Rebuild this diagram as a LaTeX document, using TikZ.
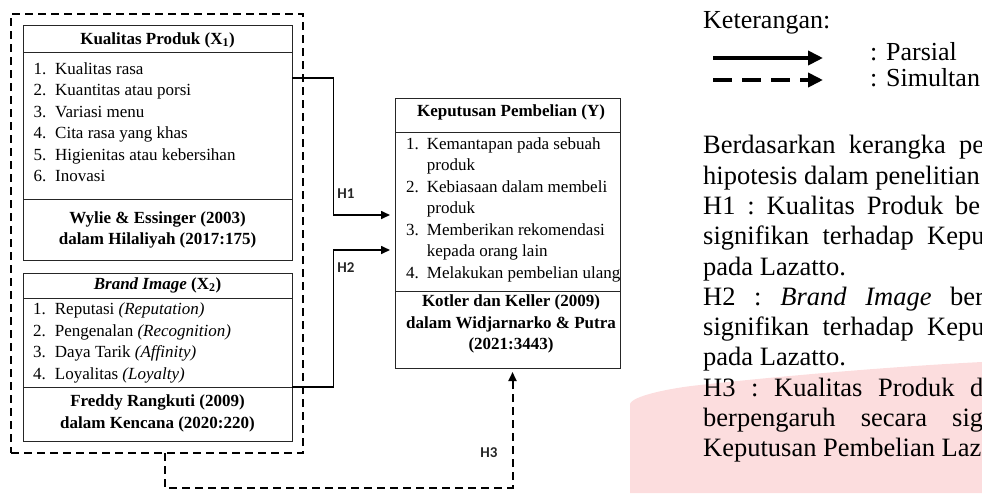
\documentclass[tikz,border=0pt]{standalone}
\usepackage{fontspec}
\setmainfont{Liberation Serif}
\newfontfamily\lblfont{Carlito}
\usetikzlibrary{arrows.meta}
\newcommand\itm[1]{\makebox[21.7pt][l]{#1}}
\newcommand\itmy[1]{\makebox[20.7pt][l]{#1}}
\definecolor{pinkbg}{RGB}{252,221,222}
\begin{document}
\begin{tikzpicture}[x=1pt,y=-1pt,line join=miter]
\tikzset{
 box/.style={draw=black!85, line width=1pt, minimum width=269pt, inner sep=0pt, outer sep=0pt},
 ybox/.style={box, minimum width=225pt},
 outerbox/.style={draw, line width=2pt, dash pattern=on 8pt off 5pt, inner sep=0pt, outer sep=0pt},
 txt/.style={inner sep=0pt, font=\fontsize{17}{21.5}\selectfont},
 para/.style={inner sep=0pt, anchor=mid west, font=\fontsize{26.5}{30}\selectfont},
 legtxt/.style={inner sep=0pt, anchor=mid west, font=\fontsize{26}{30}\selectfont},
 hlbl/.style={inner sep=0pt, font=\lblfont\bfseries\fontsize{15}{16}\selectfont, text=black!85},
 parrow/.style={line width=1.6pt, -{Triangle[length=9pt,width=8pt]}, shorten >=5pt},
 sarrow/.style={line width=2pt, dash pattern=on 8pt off 5pt, -{Triangle[length=9pt,width=8pt]}, shorten >=4pt},
 legsolid/.style={line width=4pt, -{Triangle[length=15pt,width=14pt]}},
 legdash/.style={line width=4pt, dash pattern=on 19pt off 10pt, -{Triangle[length=15pt,width=14pt]}},
}
\useasboundingbox (0,0) rectangle (982,493);
\clip (0,0) rectangle (982,493);
% pink background blob
\fill[pinkbg] (630,493) -- (630,404) .. controls (632,396) and (670,388) .. (700,385) .. controls (780,376) and (900,366) .. (982,362) -- (982,493) -- cycle;

% outer dashed box
\node[outerbox, minimum width=291.7pt, minimum height=439.3pt] (outer) at (156.85,233.65) {};

% X1 box
\node[box, minimum height=27pt] (x1t) at (157.5,38.5) {};
\node[box, minimum height=147pt] (x1i) at (157.5,125.5) {};
\node[box, minimum height=61pt] (x1r) at (157.5,229.5) {};
\node[txt, anchor=mid] (x1tt) at (157.5,42) {\bfseries Kualitas Produk (X\textsubscript{1})};
\node[txt, anchor=north west] (x1it) at (33.3,59) {\begin{tabular}{@{}l@{}}
\itm{1.}Kualitas rasa\\
\itm{2.}Kuantitas atau porsi\\
\itm{3.}Variasi menu\\
\itm{4.}Cita rasa yang khas\\
\itm{5.}Higienitas atau kebersihan\\
\itm{6.}Inovasi
\end{tabular}};
\node[txt, anchor=north] (x1rt) at (157.5,208) {\bfseries\begin{tabular}{@{}c@{}}
Wylie \& Essinger (2003)\\
dalam Hilaliyah (2017:175)
\end{tabular}};

% X2 box
\node[box, minimum height=25pt] (x2t) at (157.5,285.5) {};
\node[box, minimum height=89pt] (x2i) at (157.5,342.5) {};
\node[box, minimum height=54pt] (x2r) at (157.5,414) {};
\node[txt, anchor=mid] (x2tt) at (157.5,287) {\bfseries\textit{Brand Image} (X\textsubscript{2})};
\node[txt, anchor=north west] (x2it) at (33,299.5) {\begin{tabular}{@{}l@{}}
\itm{1.}Reputasi \textit{(Reputation)}\\
\itm{2.}Pengenalan \textit{(Recognition)}\\
\itm{3.}Daya Tarik \textit{(Affinity)}\\
\itm{4.}Loyalitas \textit{(Loyalty)}
\end{tabular}};
\node[txt, anchor=north] (x2rt) at (157.5,391.5) {\bfseries\begin{tabular}{@{}c@{}}
Freddy Rangkuti (2009)\\
dalam Kencana (2020:220)
\end{tabular}};

% Y box
\node[ybox, minimum height=34pt] (yt) at (507.5,115) {};
\node[ybox, minimum height=159pt] (yi) at (507.5,211.5) {};
\node[ybox, minimum height=77pt] (yr) at (507.5,329.5) {};
\node[txt, anchor=mid] (ytt) at (511,114.5) {\bfseries Keputusan Pembelian (Y)};
\node[txt, anchor=north west] (yit) at (406,134) {\begin{tabular}{@{}l@{}}
\itmy{1.}Kemantapan pada sebuah\\
\itmy{}produk\\
\itmy{2.}Kebiasaan dalam membeli\\
\itmy{}produk\\
\itmy{3.}Memberikan rekomendasi\\
\itmy{}kepada orang lain\\
\itmy{4.}Melakukan pembelian ulang
\end{tabular}};
\node[txt, anchor=north] (yrt) at (511,291.5) {\bfseries\begin{tabular}{@{}c@{}}
Kotler dan Keller (2009)\\
dalam Widjarnarko \& Putra\\
(2021:3443)
\end{tabular}};

% connectors
\draw[parrow] ([yshift=-26pt]x1i.north east) -- ++(41.3,0) |- ([yshift=-3.5pt]yi.west);
\draw[parrow] (x2r.north east) -- ++(41.3,0) |- ([yshift=-38.5pt]yi.west);
\draw[sarrow] ([xshift=8.15pt]outer.south) -- ++(0,34.7) -| ([xshift=5pt]yr.south);

\node[hlbl] (h1) at (346,194) {H1};
\node[hlbl] (h2) at (346,268) {H2};
\node[hlbl] (h3) at (489,453) {H3};

% legend
\node[legtxt] (ket) at (703,26) {Keterangan:};
\coordinate (ls1) at (713,58);
\coordinate (le1) at (823,58);
\coordinate (ls2) at (713,80);
\coordinate (le2) at (823,80);
\draw[legsolid] (ls1) -- (le1);
\draw[legdash] (ls2) -- (le2);
\node[legtxt] (parsial) at (870,58) {: Parsial};
\node[legtxt] (simultan) at (870,84) {: Simultan};

% paragraph
\node[para] (l1) at (703,151.5) {\hbox to 256pt{Berdasarkan\hfill kerangka\hfill}pe};
\node[para] (l2) at (703,181.8) {hipotesis dalam penelitian};
\node[para] (l3) at (703,212.1) {\hbox to 252pt{H1\hfill :\hfill Kualitas\hfill Produk\hfill}be};
\node[para] (l4) at (703,242.4) {\hbox to 224pt{signifikan\hfill terhadap\hfill}Kepu};
\node[para] (l5) at (703,272.7) {pada Lazatto.};
\node[para] (l6) at (703,303) {\hbox to 247pt{H2\hfill :\hfill \textit{Brand}\hfill \textit{Image}\hfill}ber};
\node[para] (l7) at (703,333.3) {\hbox to 224pt{signifikan\hfill terhadap\hfill}Kepu};
\node[para] (l8) at (703,363.6) {pada Lazatto.};
\node[para] (l9) at (703,393.9) {\hbox to 267pt{H3\hfill :\hfill Kualitas\hfill Produk\hfill}d};
\node[para] (l10) at (703,424.2) {\hbox to 249pt{berpengaruh\hfill secara\hfill}sig};
\node[para] (l11) at (703,454.5) {Keputusan Pembelian Laz};
\end{tikzpicture}
\end{document}
